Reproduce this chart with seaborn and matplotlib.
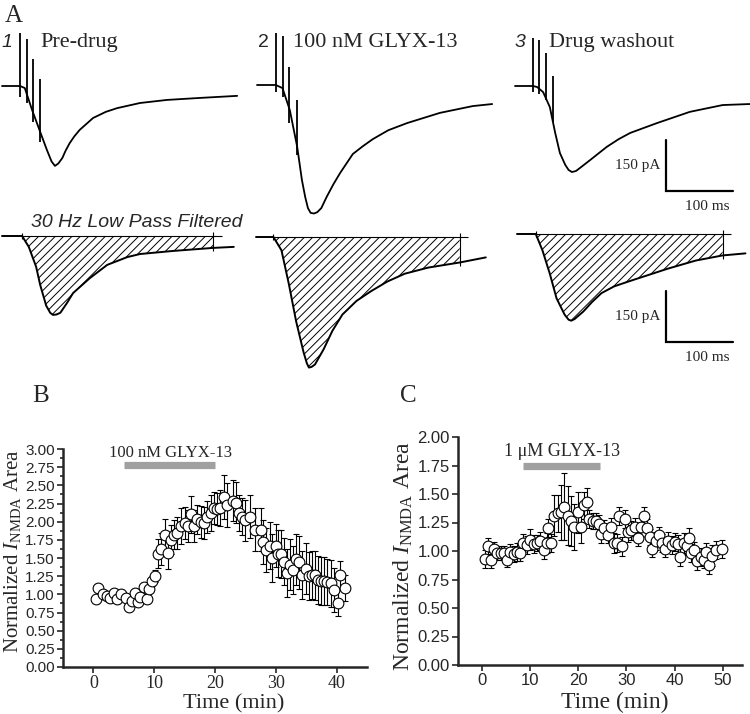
import numpy as np
import matplotlib
matplotlib.use("Agg")
import matplotlib.pyplot as plt
import seaborn as sns
from matplotlib.ticker import MultipleLocator, FormatStrFormatter

# ---------------- data ----------------
# raw NMDA currents (time in ms from sweep start, current in pA from baseline)
raw1_t = [0, 27, 34, 45, 57, 67, 74, 79, 84, 90, 95, 101, 108, 116, 136, 155, 172, 206, 246, 296, 351]
raw1_i = [0, 0, -6, -71, -135, -188, -222, -235, -228, -212, -190, -168, -148, -129, -94, -76, -65, -50, -41, -35, -29]
raw2_t = [0, 28, 38, 49, 60, 67, 72, 76, 80, 85, 90, 96, 104, 114, 124, 143, 158, 173, 196, 224, 273, 322, 351]
raw2_i = [0, 0, -9, -74, -182, -279, -330, -362, -376, -378, -374, -362, -329, -292, -259, -203, -180, -159, -133, -112, -82, -62, -56]
raw3_t = [0, 27, 33, 42, 52, 60, 67, 75, 80, 85, 91, 97, 112, 137, 155, 172, 212, 261, 310, 351]
raw3_i = [0, 0, -3, -18, -62, -138, -197, -232, -247, -253, -250, -241, -218, -179, -156, -138, -109, -76, -56, -53]

# stimulus artifacts: time, top, bottom (pA)
stim1_t = [27, 37, 47, 57]
stim1_top = [156, 138, 79, 21]
stim1_bot = [-32, -50, -106, -165]
stim2_t = [28, 39, 48, 60]
stim2_top = [153, 144, 53, -44]
stim2_bot = [-21, -35, -112, -206]
stim3_t = [27, 36, 46, 57]
stim3_top = [141, 135, 97, 29]
stim3_bot = [-18, -24, -41, -106]

# 30 Hz low-pass filtered traces
filt1_t = [0, 30, 40, 51, 57, 66, 72, 76, 81, 87, 97, 106, 131, 157, 187, 206, 255, 315, 346]
filt1_i = [0, 0, -32, -91, -144, -205, -226, -232, -231, -226, -197, -168, -124, -85, -62, -53, -44, -35, -32]
filt2_t = [0, 26, 38, 49, 60, 71, 76, 79, 83, 88, 101, 114, 129, 150, 172, 196, 222, 257, 304, 343]
filt2_i = [0, 0, -39, -138, -249, -339, -372, -384, -382, -375, -330, -276, -228, -188, -159, -131, -108, -90, -75, -60]
filt3_t = [0, 28, 38, 49, 59, 71, 77, 81, 86, 99, 112, 126, 145, 169, 225, 267, 307, 341]
filt3_i = [0, 0, -48, -117, -189, -237, -252, -255, -250, -228, -200, -174, -154, -138, -102, -78, -63, -57]
filt_onset = [30, 26, 28]
filt_end = [315, 304, 307]

trace_titles = ["Pre-drug", "100 nM GLYX-13", "Drug washout"]
trace_numbers = ["1", "2", "3"]
scale_pa = 150
scale_ms = 100

# panel B: 100 nM GLYX-13
t_b = [0.4, 0.8, 1.5, 2.2, 2.7, 3.4, 3.9, 4.6, 5.3, 5.8, 6.4, 6.8, 7.3, 7.7, 8.3, 8.8, 9.2, 9.6, 10.2, 10.6,
       11.2, 11.7, 12.2, 12.8, 13.3, 13.8, 14.4, 15.0, 15.5, 16.0, 16.6, 17.1, 17.7, 18.2, 18.7, 19.3, 19.8, 20.4, 20.9, 21.5,
       22.0, 22.9, 23.4, 24.0, 24.5, 25.0, 25.8, 26.6, 27.5, 27.9, 28.4, 29.0, 29.4, 30.0, 30.4, 30.9, 31.3, 31.8, 32.3, 32.8,
       33.4, 33.8, 34.3, 34.9, 35.4, 35.9, 36.5, 37.0, 37.4, 38.0, 38.5, 39.0, 39.5, 40.3, 40.6, 41.3]
v_b = [0.93, 1.09, 1.00, 0.98, 0.95, 1.02, 0.93, 1.00, 0.95, 0.83, 0.91, 1.02, 0.90, 0.97, 1.10, 0.94, 1.07, 1.18, 1.25, 1.56,
       1.62, 1.82, 1.57, 1.75, 1.82, 1.84, 1.94, 1.98, 1.94, 2.10, 1.94, 2.03, 2.00, 1.98, 2.07, 2.12, 2.19, 2.17, 2.19, 2.34,
       2.23, 2.29, 2.26, 2.12, 2.07, 2.02, 2.07, 1.89, 1.89, 1.72, 1.61, 1.67, 1.50, 1.67, 1.56, 1.55, 1.45, 1.29, 1.41, 1.34,
       1.48, 1.44, 1.27, 1.35, 1.25, 1.26, 1.26, 1.20, 1.19, 1.18, 1.17, 1.15, 1.06, 0.88, 1.26, 1.09]
e_b = [0.05, 0.05, 0.04, 0.04, 0.05, 0.04, 0.05, 0.04, 0.05, 0.05, 0.04, 0.05, 0.04, 0.05, 0.05, 0.04, 0.05, 0.06, 0.08,
       0.20, 0.22, 0.22, 0.22, 0.20, 0.20, 0.22, 0.25, 0.22, 0.22, 0.25, 0.22, 0.20, 0.22, 0.22, 0.22, 0.25, 0.22, 0.22, 0.25,
       0.30, 0.30, 0.28, 0.28, 0.25, 0.25, 0.28, 0.30, 0.30, 0.30, 0.30,
       0.30, 0.32, 0.33, 0.30, 0.32, 0.33, 0.32, 0.33, 0.35, 0.33, 0.35, 0.36, 0.33, 0.35, 0.33, 0.33, 0.34, 0.33, 0.33, 0.33,
       0.32, 0.32, 0.30, 0.18, 0.20, 0.18]
drug_b = (5.0, 20.0)

# panel C: 1 uM GLYX-13
t_c = [0.55, 1.2, 1.8, 2.5, 3.1, 3.9, 4.6, 5.2, 5.9, 6.6, 7.3, 7.9, 8.6, 9.3, 10.0, 10.8, 11.4, 12.1, 12.8, 13.5,
       13.8, 14.3, 15.0, 15.7, 16.4, 17.1, 17.8, 18.5, 19.2, 19.9, 20.6, 21.2, 21.7, 22.3, 23.0, 23.7, 24.3, 24.7, 25.4, 26.1,
       26.8, 27.4, 28.1, 28.5, 29.0, 29.7, 30.3, 31.0, 31.7, 32.4, 33.0, 33.7, 34.3, 34.9, 35.4, 36.1, 36.8, 37.3, 38.0, 38.7,
       39.4, 40.1, 40.8, 41.2, 41.9, 42.6, 43.0, 43.4, 44.1, 44.7, 45.4, 46.1, 46.6, 47.1, 47.8, 48.5, 49.9]
v_c = [0.93, 1.04, 0.92, 1.02, 0.98, 0.98, 0.98, 0.92, 0.99, 0.97, 0.99, 0.98, 1.07, 1.05, 1.10, 1.06, 1.07, 1.09, 1.01, 1.07,
       1.20, 1.07, 1.31, 1.33, 1.34, 1.39, 1.31, 1.26, 1.21, 1.34, 1.21, 1.40, 1.43, 1.28, 1.26, 1.26, 1.24, 1.15, 1.20, 1.14,
       1.21, 1.07, 1.07, 1.31, 1.04, 1.28, 1.17, 1.18, 1.21, 1.11, 1.21, 1.31, 1.20, 1.12, 1.02, 1.09, 1.14, 1.07, 1.02, 1.09,
       1.05, 1.08, 1.06, 0.95, 1.07, 1.04, 1.11, 0.98, 1.01, 0.91, 0.95, 0.92, 0.99, 0.88, 0.96, 1.01, 1.02]
e_c = [0.08, 0.07, 0.07, 0.06, 0.06, 0.06, 0.06, 0.06, 0.07, 0.07, 0.08, 0.07, 0.08, 0.08, 0.09, 0.08, 0.07, 0.08, 0.08, 0.09,
       0.08, 0.08, 0.18, 0.16, 0.24, 0.29, 0.26, 0.22, 0.20, 0.18, 0.14, 0.12, 0.12,
       0.08, 0.07, 0.07, 0.08, 0.08, 0.07, 0.07, 0.08, 0.09, 0.08, 0.08, 0.08, 0.08, 0.09, 0.08, 0.08, 0.07, 0.08, 0.08, 0.08,
       0.07, 0.07, 0.08, 0.07, 0.08, 0.07, 0.08, 0.08, 0.08, 0.08, 0.08, 0.09, 0.07, 0.09, 0.08, 0.07, 0.08, 0.08, 0.07, 0.08,
       0.08, 0.09, 0.08, 0.08]
drug_c = (8.5, 24.5)

# ---------------- style ----------------
sns.set_style("ticks")
plt.rcParams["font.family"] = ["Liberation Serif", "DejaVu Serif"]
plt.rcParams["mathtext.fontset"] = "custom"
plt.rcParams["mathtext.rm"] = "Liberation Serif"
plt.rcParams["mathtext.it"] = "Liberation Serif:italic"
plt.rcParams["hatch.linewidth"] = 0.7

W, H = 750, 714
fig = plt.figure(figsize=(7.5, 7.14), dpi=100)
fig.patch.set_facecolor("white")

SANS = ["Liberation Sans", "DejaVu Sans"]

# pixel per unit for the trace panels
PX_MS = 0.67
PX_PA = 0.34
T_LO, T_HI = -10, 385
I_LO, I_HI = -440, 180


def trace_ax(x0, y0):
    left = x0 + T_LO * PX_MS
    top = y0 - I_HI * PX_PA
    width = (T_HI - T_LO) * PX_MS
    height = (I_HI - I_LO) * PX_PA
    ax = fig.add_axes([left / W, 1 - (top + height) / H, width / W, height / H])
    ax.set_xlim(T_LO, T_HI)
    ax.set_ylim(I_LO, I_HI)
    ax.axis("off")
    ax.patch.set_alpha(0)
    return ax


def ftext(x, y, s, **kw):
    fig.text(x / W, 1 - y / H, s, **kw)


# ---------------- A: raw traces ----------------
raw = [(raw1_t, raw1_i, stim1_t, stim1_top, stim1_bot),
       (raw2_t, raw2_i, stim2_t, stim2_top, stim2_bot),
       (raw3_t, raw3_i, stim3_t, stim3_top, stim3_bot)]
raw_origin = [(2, 86), (257, 85), (515, 86)]
raw_axes = []
for (t, i, st, stop, sbot), (x0, y0) in zip(raw, raw_origin):
    ax = trace_ax(x0, y0)
    ax.plot(t, i, color="black", lw=1.3, clip_on=False, solid_joinstyle="round")
    ax.vlines(st, sbot, stop, color="black", lw=1.3)
    raw_axes.append(ax)

# scale bar, raw
ax = raw_axes[2]
ax.plot([225, 225, 225 + scale_ms], [-309 + scale_pa, -309, -309], color="black", lw=1.6,
        solid_joinstyle="miter")
ax.text(217, -309 + scale_pa / 2, f"{scale_pa} pA", ha="right", va="center", fontsize=11)
ax.text(225 + scale_ms / 2 + 12, -335, f"{scale_ms} ms", ha="center", va="top", fontsize=11)

# filtered traces
filt = [(filt1_t, filt1_i), (filt2_t, filt2_i), (filt3_t, filt3_i)]
filt_origin = [(2, 236), (256, 237), (517, 234)]
filt_axes = []
for k, ((t, i), (x0, y0)) in enumerate(zip(filt, filt_origin)):
    ax = trace_ax(x0, y0)
    t = np.array(t)
    i = np.array(i)
    on, end = filt_onset[k], filt_end[k]
    mask = (t >= on) & (t <= end)
    ax.fill_between(t, i, 0, where=mask, facecolor="none", edgecolor="black",
                    hatch="////", linewidth=0)
    ax.plot(t, i, color="black", lw=1.4, clip_on=False, solid_joinstyle="round")
    ax.hlines(0, on, end + 13, color="black", lw=0.8)
    ax.vlines(on, -10, 10, color="black", lw=0.8)
    ax.vlines(end, i[t == end][0] - 10, 12, color="black", lw=0.8)
    filt_axes.append(ax)

ax = filt_axes[2]
ax.plot([222, 222, 222 + scale_ms], [-318 + scale_pa, -318, -318], color="black", lw=1.6,
        solid_joinstyle="miter")
ax.text(214, -318 + scale_pa / 2, f"{scale_pa} pA", ha="right", va="center", fontsize=11)
ax.text(222 + scale_ms / 2 + 12, -344, f"{scale_ms} ms", ha="center", va="top", fontsize=11)

# labels of panel A
ftext(5, 22, "A", fontsize=18, va="baseline")
num_x = [2, 258, 515]
title_x = [40, 293, 549]
num_style = ["italic", "normal", "italic"]
for k in range(3):
    ftext(num_x[k], 47, trace_numbers[k], fontsize=14, family=SANS, style=num_style[k], va="baseline")
    ftext(title_x[k], 47, trace_titles[k], fontsize=16, va="baseline")
ftext(31, 227, "30 Hz Low Pass Filtered", fontsize=14, family=SANS, style="italic", va="baseline")


# ---------------- B and C ----------------
def time_course(ax, t, v, e):
    ax.errorbar(t, v, yerr=e, fmt="none", ecolor="black", elinewidth=0.8,
                capsize=2.3, capthick=0.8, zorder=2)
    sns.scatterplot(x=t, y=v, ax=ax, marker="o", s=60, color="white",
                    edgecolor="black", linewidth=0.8, zorder=3, clip_on=False)
    sns.despine(ax=ax)
    for sp in ["left", "bottom"]:
        ax.spines[sp].set_linewidth(1.8)
    ax.tick_params(which="both", direction="out", width=1.2, pad=2)
    ax.tick_params(which="major", length=4)
    ax.tick_params(which="minor", length=2.5)
    ax.yaxis.set_major_formatter(FormatStrFormatter("%.2f"))


axB = fig.add_axes([63 / W, 1 - 667 / H, 304 / W, 218 / H])
time_course(axB, t_b, v_b, e_b)
axB.set_xlim(-5, 45)
axB.set_ylim(0, 3.0)
axB.xaxis.set_major_locator(MultipleLocator(10))
axB.yaxis.set_major_locator(MultipleLocator(0.25))
axB.yaxis.set_minor_locator(MultipleLocator(0.125))
for lab in axB.get_yticklabels():
    lab.set_fontfamily(SANS)
    lab.set_fontsize(11)
for lab in axB.get_xticklabels():
    lab.set_fontsize(13)
axB.plot(drug_b, [2.78, 2.78], color="#a0a0a0", lw=5.2, solid_capstyle="butt")
axB.text(12.6, 2.89, "100 nM GLYX-13", ha="center", va="baseline", fontsize=12, clip_on=False)
axB.set_xlabel("Time (min)", fontsize=16)
axB.set_ylabel(r"Normalized $\mathit{I}_{\mathrm{NMDA}}$ Area", fontsize=15)
axB.xaxis.set_label_coords(0.56, -0.125)
axB.yaxis.set_label_coords(-0.13, 0.53)
ftext(32, 402, "B", fontsize=18, va="baseline")

axC = fig.add_axes([458 / W, 1 - 665 / H, 284 / W, 228 / H])
time_course(axC, t_c, v_c, e_c)
axC.set_xlim(-5, 54)
axC.set_ylim(0, 2.0)
axC.xaxis.set_major_locator(MultipleLocator(10))
axC.yaxis.set_major_locator(MultipleLocator(0.25))
for lab in axC.get_yticklabels() + axC.get_xticklabels():
    lab.set_fontfamily(SANS)
    lab.set_fontsize(12)
axC.plot(drug_c, [1.75, 1.75], color="#a0a0a0", lw=5.2, solid_capstyle="butt")
axC.text(16.6, 1.83, "1 \u03bcM GLYX-13", ha="center", va="baseline", fontsize=13, clip_on=False)
axC.set_xlabel("Time (min)", fontsize=17)
axC.set_ylabel(r"Normalized $\mathit{I}_{\mathrm{NMDA}}$ Area", fontsize=17)
axC.xaxis.set_label_coords(0.553, -0.12)
axC.yaxis.set_label_coords(-0.15, 0.48)
ftext(400, 402, "C", fontsize=18, va="baseline")

fig.savefig("out.png", dpi=100, facecolor="white")
